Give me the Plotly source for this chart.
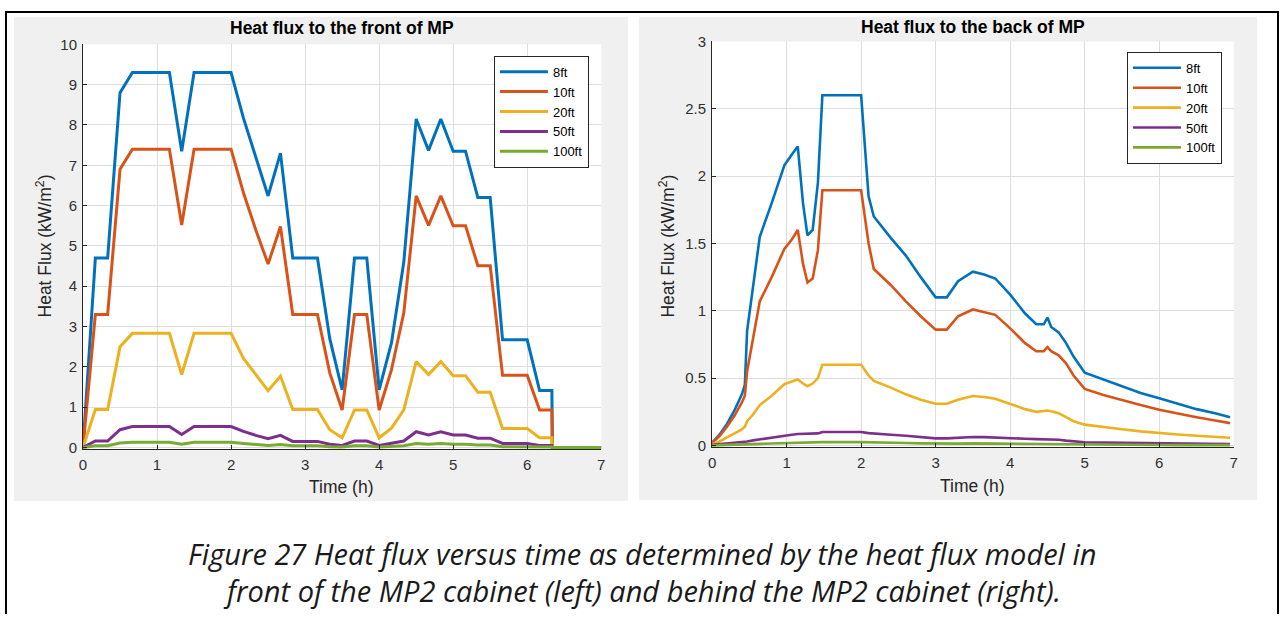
import plotly.graph_objects as go

W, H = 1284, 621
FONT = "Liberation Sans, Arial, sans-serif"

series_names = ["8ft", "10ft", "20ft", "50ft", "100ft"]
series_colors = ["#0072BD", "#D95319", "#EDB120", "#7E2F8E", "#77AC30"]

# ---------- Left chart: heat flux to the front of MP ----------
t_front = [0, 0.167, 0.333, 0.5, 0.667, 0.833, 1.0, 1.167, 1.333, 1.5, 1.667, 1.833,
           2.0, 2.167, 2.333, 2.5, 2.667, 2.833, 3.0, 3.167, 3.333, 3.5, 3.667, 3.833,
           4.0, 4.167, 4.333, 4.5, 4.667, 4.833, 5.0, 5.167, 5.333, 5.5, 5.667, 5.833,
           6.0, 6.167, 6.333, 6.34, 7.0]
front_8ft = [0, 4.7, 4.7, 8.8, 9.3, 9.3, 9.3, 9.3, 7.35, 9.3, 9.3, 9.3, 9.3, 8.17, 7.2, 6.24,
             7.3, 4.7, 4.7, 4.7, 2.7, 1.43, 4.7, 4.7, 1.43, 2.6, 4.6, 8.15, 7.37, 8.15, 7.35,
             7.35, 6.2, 6.2, 2.67, 2.67, 2.67, 1.41, 1.41, 0, 0]
front_10ft = [0, 3.3, 3.3, 6.9, 7.4, 7.4, 7.4, 7.4, 5.52, 7.4, 7.4, 7.4, 7.4, 6.32, 5.4, 4.55,
              5.48, 3.3, 3.3, 3.3, 1.85, 0.93, 3.3, 3.3, 0.93, 1.93, 3.34, 6.24, 5.51, 6.24,
              5.5, 5.5, 4.51, 4.51, 1.79, 1.79, 1.79, 0.93, 0.93, 0, 0]
front_20ft = [0, 0.94, 0.94, 2.5, 2.83, 2.83, 2.83, 2.83, 1.81, 2.83, 2.83, 2.83, 2.83, 2.21,
              1.8, 1.41, 1.77, 0.94, 0.94, 0.94, 0.44, 0.24, 0.93, 0.93, 0.24, 0.48, 0.93,
              2.13, 1.81, 2.13, 1.78, 1.78, 1.37, 1.37, 0.47, 0.47, 0.47, 0.24, 0.24, 0, 0]
front_50ft = [0, 0.16, 0.16, 0.44, 0.52, 0.52, 0.52, 0.52, 0.32, 0.52, 0.52, 0.52, 0.52, 0.4,
              0.3, 0.22, 0.3, 0.15, 0.15, 0.15, 0.08, 0.05, 0.16, 0.16, 0.05, 0.1, 0.16, 0.39,
              0.31, 0.39, 0.31, 0.31, 0.23, 0.23, 0.1, 0.1, 0.1, 0.05, 0.05, 0, 0]
front_100ft = [0, 0.04, 0.04, 0.11, 0.13, 0.13, 0.13, 0.13, 0.08, 0.13, 0.13, 0.13, 0.13, 0.1,
               0.07, 0.05, 0.07, 0.04, 0.04, 0.04, 0.02, 0.01, 0.04, 0.04, 0.01, 0.02, 0.04,
               0.1, 0.08, 0.1, 0.08, 0.08, 0.06, 0.06, 0.02, 0.02, 0.02, 0.01, 0.01, 0, 0]

# ---------- Right chart: heat flux to the back of MP ----------
t_back = [0, 0.1, 0.2, 0.3, 0.4, 0.44, 0.47, 0.55, 0.64, 0.8, 0.97, 1.07, 1.15, 1.22, 1.28,
          1.35, 1.42, 1.48, 2.0, 2.1, 2.17, 2.4, 2.6, 2.8, 3.0, 3.15, 3.3, 3.5, 3.65, 3.8,
          4.0, 4.2, 4.35, 4.45, 4.5, 4.55, 4.65, 4.75, 4.85, 5.0, 5.25, 5.5, 5.75, 6.0, 6.25,
          6.5, 6.75, 6.95]
back_8ft = [0.02, 0.08, 0.16, 0.26, 0.38, 0.45, 0.85, 1.2, 1.55, 1.8, 2.08, 2.16, 2.22, 1.8,
            1.56, 1.6, 1.95, 2.6, 2.6, 1.85, 1.70, 1.54, 1.41, 1.25, 1.1, 1.1, 1.22, 1.29,
            1.27, 1.24, 1.12, 0.98, 0.9, 0.9, 0.95, 0.88, 0.84, 0.76, 0.66, 0.54, 0.49, 0.44,
            0.39, 0.35, 0.31, 0.27, 0.24, 0.21]
back_10ft = [0.02, 0.07, 0.14, 0.22, 0.32, 0.37, 0.55, 0.8, 1.07, 1.25, 1.46, 1.53, 1.6, 1.35,
             1.21, 1.24, 1.45, 1.895, 1.895, 1.5, 1.31, 1.19, 1.07, 0.96, 0.86, 0.86, 0.96,
             1.01, 0.99, 0.97, 0.87, 0.76, 0.7, 0.7, 0.73, 0.7, 0.67, 0.61, 0.52, 0.42, 0.375,
             0.335, 0.3, 0.265, 0.235, 0.21, 0.185, 0.166]
back_20ft = [0.01, 0.03, 0.06, 0.09, 0.12, 0.14, 0.18, 0.23, 0.30, 0.37, 0.455, 0.475, 0.49,
             0.46, 0.44, 0.46, 0.5, 0.6, 0.6, 0.52, 0.48, 0.43, 0.38, 0.34, 0.31, 0.31, 0.34,
             0.367, 0.36, 0.347, 0.31, 0.27, 0.25, 0.255, 0.26, 0.255, 0.24, 0.21, 0.18, 0.155,
             0.135, 0.12, 0.105, 0.092, 0.082, 0.072, 0.064, 0.058]
back_50ft = [0.005, 0.01, 0.015, 0.02, 0.025, 0.028, 0.03, 0.038, 0.046, 0.06, 0.075, 0.08,
             0.085, 0.085, 0.085, 0.087, 0.09, 0.1, 0.1, 0.092, 0.088, 0.08, 0.072, 0.062,
             0.053, 0.053, 0.058, 0.063, 0.062, 0.06, 0.055, 0.05, 0.047, 0.047, 0.048, 0.046,
             0.043, 0.036, 0.03, 0.024, 0.021, 0.019, 0.017, 0.015, 0.014, 0.013, 0.012, 0.011]
back_100ft = [0.001, 0.002, 0.004, 0.005, 0.006, 0.007, 0.008, 0.01, 0.012, 0.015, 0.018,
              0.02, 0.021, 0.021, 0.021, 0.022, 0.023, 0.025, 0.025, 0.023, 0.022, 0.02, 0.018,
              0.016, 0.013, 0.013, 0.014, 0.016, 0.015, 0.015, 0.014, 0.012, 0.012, 0.012,
              0.012, 0.011, 0.011, 0.009, 0.008, 0.006, 0.005, 0.005, 0.004, 0.004, 0.003,
              0.003, 0.003, 0.003]

x_ticks = [0, 1, 2, 3, 4, 5, 6, 7]
front_y_ticks = [0, 1, 2, 3, 4, 5, 6, 7, 8, 9, 10]
back_y_ticks = [0, 0.5, 1, 1.5, 2, 2.5, 3]

front_series = [front_8ft, front_10ft, front_20ft, front_50ft, front_100ft]
back_series = [back_8ft, back_10ft, back_20ft, back_50ft, back_100ft]


def px(x):
    return x / W


def py(y):
    return 1 - y / H


fig = go.Figure()
for name, col, ys in zip(series_names, series_colors, front_series):
    fig.add_trace(go.Scatter(x=t_front, y=ys, mode="lines", name=name,
                             line=dict(color=col, width=3), xaxis="x", yaxis="y",
                             legend="legend"))
for name, col, ys in zip(series_names, series_colors, back_series):
    fig.add_trace(go.Scatter(x=t_back, y=ys, mode="lines", name=name,
                             line=dict(color=col, width=2.6), xaxis="x2", yaxis="y2",
                             legend="legend2"))

AX = dict(showgrid=True, gridcolor="#dedede", gridwidth=1, showline=True,
          linecolor="#262626", linewidth=1, ticks="inside", ticklen=4,
          tickcolor="#262626", tickfont=dict(family=FONT, size=15, color="#303030"),
          zeroline=False, mirror=False)

# plot-area pixel boxes
L = dict(x0=79.5, x1=601, y0=36.3, y1=451.7)
R = dict(x0=712.5, x1=1237.5, y0=33.3, y1=449.7)

LEG = dict(xanchor="left", yanchor="top", bgcolor="white", bordercolor="#262626",
           borderwidth=1, itemwidth=48, font=dict(family=FONT, size=13, color="#000"))

fig.update_layout(
    width=W, height=H, margin=dict(l=0, r=0, t=0, b=0),
    paper_bgcolor="white", plot_bgcolor="white",
    font=dict(family=FONT, color="#262626"),
    xaxis=dict(AX, domain=[px(L["x0"]), px(L["x1"])], range=[0, 7], tickvals=x_ticks,
               anchor="y", ticklabelstandoff=2),
    yaxis=dict(AX, domain=[py(L["y1"]), py(L["y0"])], range=[-0.04, 10],
               tickvals=front_y_ticks, anchor="x", ticklabelstandoff=2),
    xaxis2=dict(AX, domain=[px(R["x0"]), px(R["x1"])], range=[0, 7], tickvals=x_ticks,
                anchor="y2", ticklabelstandoff=2),
    yaxis2=dict(AX, domain=[py(R["y1"]), py(R["y0"])], range=[-0.012, 3],
                tickvals=back_y_ticks, anchor="x2", ticklabelstandoff=2),
    legend=dict(LEG, x=px(493), y=py(48)),
    legend2=dict(LEG, x=px(1130), y=py(44)),
    showlegend=True,
)

shapes = []
# grey figure panels
for (x0, y0, x1, y1) in [(10, 8, 628, 505), (639, 8, 1261, 504)]:
    shapes.append(dict(type="rect", xref="paper", yref="paper", x0=px(x0), x1=px(x1),
                       y0=py(y1), y1=py(y0), fillcolor="#f0f0f0", line=dict(width=0),
                       layer="below"))
# white plot areas on top of the panels
for b in (L, R):
    shapes.append(dict(type="rect", xref="paper", yref="paper", x0=px(b["x0"]),
                       x1=px(b["x1"]), y0=py(b["y1"]), y1=py(b["y0"]), fillcolor="white",
                       line=dict(width=0), layer="below"))
# outer document frame (top, left, right edges), kept inside the page
for (x0, y0, x1, y1) in [(1, 3, 1283, 3), (2, 3, 2, 621), (1282, 3, 1282, 621)]:
    shapes.append(dict(type="line", xref="paper", yref="paper", x0=px(x0), x1=px(x1),
                       y0=py(y0), y1=py(y1), line=dict(color="black", width=2),
                       layer="above"))
fig.update_layout(shapes=shapes)

ann = []
ann.append(dict(text="<b>Heat flux to the front of MP</b>", x=px(340), y=py(20)))
ann.append(dict(text="<b>Heat flux to the back of MP</b>", x=px(975), y=py(18)))
ann.append(dict(text="Time (h)", x=px(340), y=py(491)))
ann.append(dict(text="Time (h)", x=px(975), y=py(490)))
for a in ann:
    a.update(xref="paper", yref="paper", showarrow=False, xanchor="center",
             yanchor="middle", font=dict(family=FONT, size=17.5, color="#262626"))
ann[0]["font"] = dict(family=FONT, size=17.5, color="#000")
ann[1]["font"] = dict(family=FONT, size=17.5, color="#000")
for xx in (40, 667):
    ann.append(dict(text="Heat Flux (kW/m<sup>2</sup>)", x=px(xx), y=py(243), xref="paper",
                    yref="paper", showarrow=False, textangle=-90, xanchor="center",
                    yanchor="middle", font=dict(family=FONT, size=17.5, color="#262626")))
cap = "'Open Sans', Lato, sans-serif"
ann.append(dict(text="<i>Figure 27 Heat flux versus time as determined by the heat flux model in</i>",
                x=px(642), y=py(559), xref="paper", yref="paper", showarrow=False,
                xanchor="center", yanchor="middle", font=dict(family=cap, size=29, color="#1a1a1a")))
ann.append(dict(text="<i>front of the MP2 cabinet (left) and behind the MP2 cabinet (right).</i>",
                x=px(642), y=py(597), xref="paper", yref="paper", showarrow=False,
                xanchor="center", yanchor="middle", font=dict(family=cap, size=29, color="#1a1a1a")))
fig.update_layout(annotations=ann)

fig.write_html("out.html", config={"displayModeBar": False})

# pin the figure to the window origin
css = ("<style>html,body{margin:0!important;padding:0!important;overflow:hidden!important;"
       "background:white!important;}"
       ".plotly-graph-div{position:fixed!important;left:0!important;top:0!important;}</style>")
with open("out.html", "r", encoding="utf-8") as f:
    html = f.read()
html = html.replace("<head>", "<head>" + css, 1)
with open("out.html", "w", encoding="utf-8") as f:
    f.write(html)
